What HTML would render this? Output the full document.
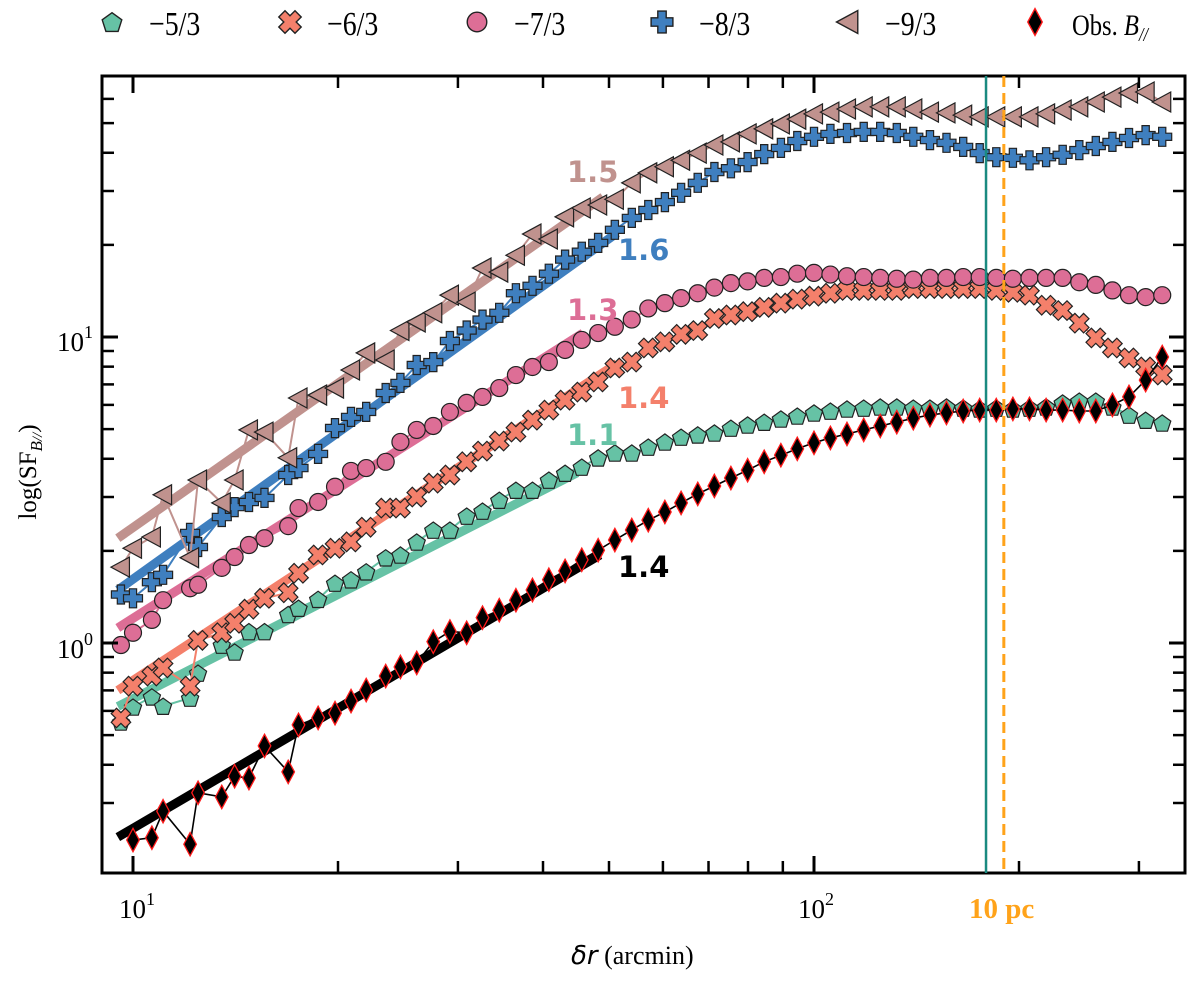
<!DOCTYPE html>
<html><head><meta charset="utf-8"><style>
html,body{margin:0;padding:0;background:#fff;}
svg{display:block;}
.serif{font-family:"Liberation Serif","DejaVu Serif",serif;}
.sans{font-family:"DejaVu Sans","Liberation Sans",sans-serif;}
</style></head><body>
<svg id="chart" width="1200" height="986" viewBox="0 0 1200 986" xmlns="http://www.w3.org/2000/svg">
<g id="fits"></g>
<g id="series"></g>
<g id="axes"></g>
<g id="legend"></g>
</svg>
<script>
// ---- data ----
const lags = [10,10.66,11.07,12.13,12.46,13.5,14.1,14.8,15.6,16.9,17.5,18.7,19.8,20.9,22.0,23.5,24.7,26.1,27.6,29.2,30.9,
32.6,34.5,36.5,38.6,40.8,43.1,45.6,48.2,51.0,54.0,57.1,60.4,63.8,67.5,71.4,75.5,79.9,84.5,89.4,94.5,100,105.7,111.8,118.3,125.1,132.3,139.9,148,156.5,165.6,175.1,185.2,195.9,207.2,219.2,231.8,245.2,259.3,274.3,290.1,306.9,324.6];
const modelLags = [9.6].concat(lags);
const obsValues = [0.227,0.231,0.282,0.220,0.324,0.314,0.367,0.362,0.461,0.379,0.540,0.569,0.590,0.646,0.702,0.780,0.835,0.861,1.01,1.09,1.08,
1.21,1.28,1.38,1.49,1.61,1.72,1.87,2.01,2.17,2.34,2.52,2.68,2.87,3.07,3.26,3.46,3.67,3.91,4.11,4.31,4.51,4.68,4.82,4.97,5.12,5.27,5.43,5.56,5.65,5.73,5.77,5.77,5.82,5.82,5.77,5.77,5.73,5.73,6.0,6.37,7.23,8.60];
const s53Values = [0.552,0.618,0.667,0.622,0.661,0.798,0.985,0.935,1.09,1.09,1.24,1.30,1.39,1.57,1.61,1.71,1.90,1.94,2.14,2.34,2.34,2.60,
2.70,2.93,3.16,3.16,3.41,3.59,3.76,4.03,4.18,4.18,4.37,4.54,4.71,4.79,4.86,5.04,5.16,5.27,5.40,5.52,5.65,5.73,5.82,5.86,5.91,5.91,5.86,5.86,5.91,5.86,5.82,5.86,5.82,5.86,5.91,6.09,6.18,6.18,5.91,5.56,5.35,5.24];
const s63Values = [0.569,0.723,0.780,0.829,0.723,1.02,1.08,1.16,1.29,1.40,1.46,1.69,1.94,2.04,2.14,2.39,2.76,2.76,3.00,3.33,3.54,3.91,
4.24,4.57,4.89,5.35,5.77,6.22,6.61,7.13,7.92,8.28,9.21,9.64,10.2,10.5,11.5,11.8,12.1,12.5,12.9,13.3,13.6,13.9,14.2,14.2,14.2,14.2,14.4,14.4,14.4,14.4,14.4,14.2,14.0,13.7,12.7,12.2,11.1,9.93,9.21,8.54,7.98,7.51];
const s73Values = [0.985,1.08,1.19,1.38,1.51,1.55,1.76,1.91,2.09,2.20,2.41,2.76,2.89,3.24,3.65,3.73,3.91,4.54,4.97,5.12,5.69,6.09,
6.37,6.81,7.51,7.98,8.28,9.07,9.78,10.3,10.8,11.4,12.4,12.9,13.4,13.9,14.5,15.0,15.2,15.6,15.7,16.1,16.2,16.0,15.8,15.7,15.6,15.5,15.4,15.6,15.6,15.7,15.7,15.6,15.5,15.6,15.6,15.6,15.1,14.8,14.2,13.7,13.5,13.7];
const s83Values = [1.44,1.40,1.58,1.67,2.29,2.06,2.58,2.78,2.89,2.98,3.54,3.73,4.15,5.04,5.48,5.69,6.56,7.08,8.10,8.28,9.70,10.5,
11.4,12.0,13.9,14.7,16.1,17.9,19.0,20.3,22.4,24.5,26.0,27.6,29.6,31.9,34.6,35.6,37.3,39.6,41.5,43.7,45.1,46.1,46.4,46.8,46.8,46.4,45.1,44.0,43.1,41.8,39.9,38.7,38.5,37.8,38.7,39.4,40.8,42.1,43.4,44.7,45.7,45.1];
const s93Values = [1.77,2.04,2.22,3.05,1.90,3.41,2.87,3.41,4.97,4.89,4.03,6.32,6.46,6.81,7.80,8.87,8.41,10.5,11.2,12.0,13.7,13.0,
16.8,16.3,18.5,21.7,20.9,24.7,26.4,27.0,28.2,31.9,34.4,36.0,37.8,39.9,42.4,43.4,46.1,47.9,49.7,51.5,53.6,54.3,55.6,56.5,56.5,56.5,55.6,54.3,54.0,53.1,52.4,52.4,52.4,52.4,53.6,55.2,56.5,58.6,60.8,62.7,63.2,58.6];
// fit segments: [startLag, endLag]; [startVal, endVal]
const fitLags = {b93:[9.5,49],b83:[9.5,51.4],b73:[9.5,45.8],b63:[9.5,51.4],b53:[9.5,44.9],obs:[9.5,48.5]};
const fitVals = {b93:[2.20,28.7],b83:[1.49,21.9],b73:[1.12,10.3],b63:[0.70,8.2],b53:[0.62,3.6],obs:[0.232,1.94]};
const fitLabels = ["1.5","1.6","1.3","1.4","1.1","1.4"];
const legendLabels = ["\u22125/3","\u22126/3","\u22127/3","\u22128/3","\u22129/3"];
const scaleLines = [178.9, 190];
const xTickMajor = [10,100];
const xTickMinor = [20,30,40,50,60,70,80,90,200,300];
const yTickMajor = [1,10];
const yTickMinor = [0.3,0.4,0.5,0.6,0.7,0.8,0.9,2,3,4,5,6,7,8,9,20,30,40,50,60];

// ---- scales ----
const L=102,R=1185,T=76,B=873;
function X(v){return 133+681*(Math.log10(v)-1);}
function Y(v){return 643-306*Math.log10(v);}
const NS="http://www.w3.org/2000/svg";
function mk(tag,attrs,parent){const e=document.createElementNS(NS,tag);for(const k in attrs)e.setAttribute(k,attrs[k]);if(parent)parent.appendChild(e);return e;}

function markerPath(type,x,y,s){
  let p="";
  if(type==="pent"){for(let i=0;i<5;i++){const a=-Math.PI/2+i*2*Math.PI/5;p+=(i?"L":"M")+(x+s*Math.cos(a)).toFixed(1)+","+(y+s*Math.sin(a)+1).toFixed(1);}return p+"Z";}
  if(type==="plus"||type==="x"){const a=s,w=s*0.38;const pts=[[-w,-a],[w,-a],[w,-w],[a,-w],[a,w],[w,w],[w,a],[-w,a],[-w,w],[-a,w],[-a,-w],[-w,-w]];
    const r=type==="x"?Math.PI/4:0;pts.forEach((q,i)=>{const px=q[0]*Math.cos(r)-q[1]*Math.sin(r),py=q[0]*Math.sin(r)+q[1]*Math.cos(r);p+=(i?"L":"M")+(x+px).toFixed(1)+","+(y+py).toFixed(1);});return p+"Z";}
  if(type==="tri"){return "M"+(x-s)+","+y+"L"+(x+s*0.85)+","+(y-s)+"L"+(x+s*0.85)+","+(y+s)+"Z";}
  if(type==="dia"){return "M"+x+","+(y-s*1.3)+"L"+(x+s*0.7)+","+y+"L"+x+","+(y+s*1.3)+"L"+(x-s*0.7)+","+y+"Z";}
  return "";
}
function drawMarker(type,x,y,s,fill,stroke,sw,parent){
  if(type==="circ") return mk("circle",{cx:x,cy:y,r:s,fill:fill,stroke:stroke,"stroke-width":sw},parent);
  return mk("path",{d:markerPath(type,x,y,s),fill:fill,stroke:stroke,"stroke-width":sw,"stroke-linejoin":"miter"},parent);
}

const seriesDefs=[
 {key:"b53",name:"series-minus-5-3",vals:s53Values,lags:modelLags,type:"pent",size:9,color:"#66c2a5",edge:"#222"},
 {key:"b63",name:"series-minus-6-3",vals:s63Values,lags:modelLags,type:"x",size:10,color:"#f4806b",edge:"#222"},
 {key:"b73",name:"series-minus-7-3",vals:s73Values,lags:modelLags,type:"circ",size:8.5,color:"#dd6e96",edge:"#222"},
 {key:"b83",name:"series-minus-8-3",vals:s83Values,lags:modelLags,type:"plus",size:9.5,color:"#3f7fbf",edge:"#222"},
 {key:"b93",name:"series-minus-9-3",vals:s93Values,lags:modelLags,type:"tri",size:10,color:"#c0928e",edge:"#222"},
 {key:"obs",name:"series-observed",vals:obsValues,lags:lags,type:"dia",size:9,color:"#000",edge:"#ff1a1a"}
];

// clip
const defs=mk("defs",{},document.getElementById("chart"));
const cp=mk("clipPath",{id:"plotclip"},defs);
mk("rect",{x:L,y:T,width:R-L,height:B-T},cp);

// fits
const fitsG=document.getElementById("fits");
fitsG.setAttribute("clip-path","url(#plotclip)");
const fitOrder=["b93","b83","b73","b63","b53","obs"];
fitOrder.forEach(k=>{
  const d=seriesDefs.find(s=>s.key===k);
  const fl=mk("line",{x1:X(fitLags[k][0]),y1:Y(fitVals[k][0]),x2:X(fitLags[k][1]),y2:Y(fitVals[k][1]),stroke:d.color,"stroke-width":9,"stroke-linecap":"butt"},fitsG);
  
  
});

// scale lines
const vt=mk("line",{x1:X(scaleLines[0]),y1:T,x2:X(scaleLines[0]),y2:B,stroke:"#1a8a80","stroke-width":2.5},document.getElementById("chart"));


const vo=mk("line",{x1:X(scaleLines[1]),y1:T,x2:X(scaleLines[1]),y2:B,stroke:"#ffa31a","stroke-width":3,"stroke-dasharray":"11,6"},document.getElementById("chart"));



// series
const serG=document.getElementById("series");
serG.setAttribute("clip-path","url(#plotclip)");
seriesDefs.forEach(sd=>{
  const g=mk("g",{},serG);
  
  
  let pts=sd.vals.map((v,i)=>X(sd.lags[i]).toFixed(1)+","+Y(v).toFixed(1)).join(" ");
  const pl=mk("polyline",{points:pts,fill:"none",stroke:sd.key==="obs"?"#000":sd.color,"stroke-width":sd.key==="obs"?1.6:2},g);
  
  
  sd.vals.forEach((v,i)=>{
    const m=drawMarker(sd.type,X(sd.lags[i]),Y(v),sd.size,sd.color,sd.edge,sd.key==="obs"?1.3:1.2,g);
    
    
  });
});

// fit labels
const lblPos=[[567,182,"#c0928e"],[618,260,"#3f7fbf"],[567,320,"#dd6e96"],[618,408,"#f4806b"],[567,445,"#66c2a5"],[618,577,"#000"]];
fitLabels.forEach((t,i)=>{
  const tx=mk("text",{x:lblPos[i][0],y:lblPos[i][1],fill:lblPos[i][2],"font-size":29,"font-weight":"bold",class:"sans"},document.getElementById("chart"));
  tx.textContent=t;
  
  
});

// axes
const ax=document.getElementById("axes");
const fr=mk("rect",{x:L,y:T,width:R-L,height:B-T,fill:"none",stroke:"#000","stroke-width":3},ax);


function tick(x1,y1,x2,y2,w){const t=mk("line",{x1:x1,y1:y1,x2:x2,y2:y2,stroke:"#000","stroke-width":w},ax);}
xTickMajor.forEach(v=>{const x=X(v);tick(x,B,x,B-17,3);tick(x,T,x,T+17,3);});
xTickMinor.forEach(v=>{const x=X(v);tick(x,B,x,B-12,2.5);tick(x,T,x,T+12,2.5);});
yTickMajor.forEach(v=>{const y=Y(v);tick(L,y,L+16,y,3);tick(R,y,R-16,y,3);});
yTickMinor.forEach(v=>{const y=Y(v);tick(L,y,L+12,y,2.5);tick(R,y,R-12,y,2.5);});
function powLabel(x,y,exp,name){
  const t=mk("text",{x:x,y:y,"font-size":27,class:"serif",fill:"#000"},ax);
  t.innerHTML='10<tspan dy="-13" font-size="18">'+exp+'</tspan>';
  
  
}
powLabel(X(10)-14,918,"1","x-tick-label-10");
powLabel(X(100)-16,918,"2","x-tick-label-100");
powLabel(57,Y(10)+14,"1","y-tick-label-10");
powLabel(57,Y(1)+15,"0","y-tick-label-1");
const pc=mk("text",{x:969,y:918,"font-size":29,"font-weight":"bold",fill:"#ffa31a",class:"serif"},ax);
pc.textContent="10 pc";


const xl=mk("text",{x:571,y:964,"font-size":26,fill:"#000",class:"serif"},ax);
xl.innerHTML='<tspan font-style="italic" font-family="DejaVu Sans, sans-serif">δr</tspan> (arcmin)';


const yl=mk("text",{x:0,y:0,"font-size":25,fill:"#000",class:"serif","text-anchor":"middle",transform:"translate(36,472) rotate(-90)"},ax);
yl.innerHTML='log(SF<tspan dy="6" font-size="17" font-style="italic">B</tspan><tspan font-size="15" font-style="italic">//</tspan><tspan dy="-6">)</tspan>';



// legend
const lg=document.getElementById("legend");
const legX=[112,290,477,662,848,1035];
seriesDefs.forEach((sd,i)=>{
  const g=mk("g",{},lg);
  
  
  drawMarker(sd.type,legX[i],22,sd.size*1.15,sd.color,sd.edge,1.4,g);
  const tx0=legX[i]+37;
  const t=mk("text",{x:tx0,y:35,"font-size":34,fill:"#000",class:"serif",transform:"translate("+tx0+",0) scale(0.82,1) translate("+(-tx0)+",0)"},g);
  if(i<5){t.textContent=legendLabels[i];}
  else{t.innerHTML='Obs. <tspan font-style="italic">B</tspan><tspan font-size="20" dy="6" font-style="italic">//</tspan>';t.setAttribute("font-size","30");}
  
  
});
</script>
</body></html>
